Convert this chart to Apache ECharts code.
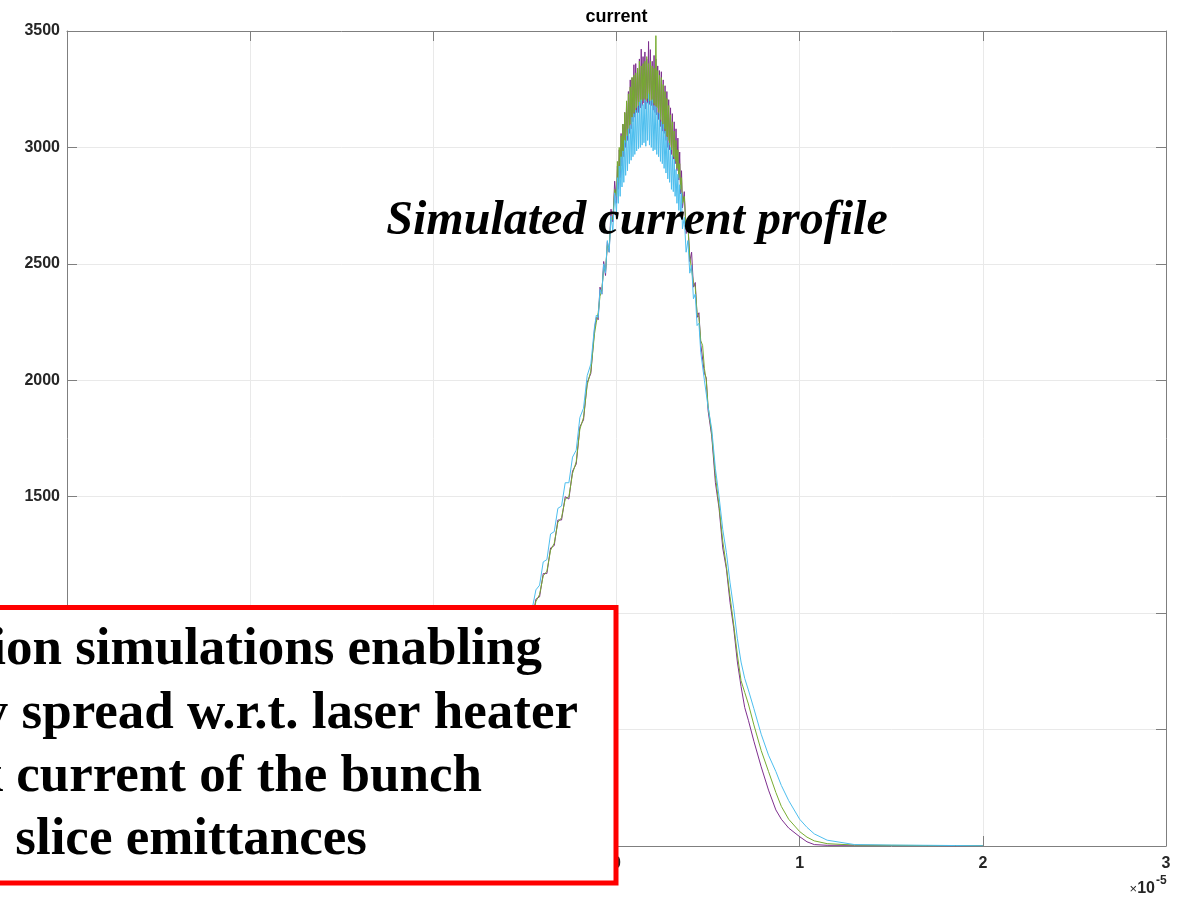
<!DOCTYPE html>
<html><head><meta charset="utf-8">
<script src="https://cdn.jsdelivr.net/npm/echarts@6/dist/echarts.min.js"></script>
<style>html,body{margin:0;padding:0;background:#fff}#chart{width:1191px;height:897px}</style>
</head><body><div id="chart"></div>
<script>
// longitudinal position (units of 1e-5)
const zPos = [-1.2,-1.0,-0.9,-0.8,-0.7,-0.6,-0.55,-0.5,-0.47,
-0.44,-0.42,-0.40,-0.38,-0.36,-0.34,-0.32,-0.30,-0.28,-0.26,-0.24,-0.22,-0.20,-0.18,-0.16,-0.14,-0.12,
-0.11,-0.10,-0.09,-0.08,-0.07,-0.06,-0.05,-0.04,-0.03,-0.02,-0.01,
0,0.005,0.01,0.015,0.02,0.025,0.03,0.035,0.04,0.045,0.05,0.055,0.06,0.065,0.07,0.075,0.08,0.085,0.09,0.095,
0.1,0.105,0.11,0.115,0.12,0.125,0.13,0.135,0.14,0.145,0.15,0.155,0.16,0.165,0.17,0.175,0.18,0.185,0.19,0.195,
0.2,0.205,0.21,0.215,0.22,0.225,0.23,0.235,0.24,0.245,0.25,0.255,0.26,0.265,0.27,0.275,0.28,0.285,0.29,0.295,
0.3,0.305,0.31,0.315,0.32,0.325,0.33,0.335,0.34,0.345,0.35,0.355,0.36,
0.37,0.38,0.39,0.40,0.41,0.42,0.43,0.44,0.45,0.46,0.47,0.48,0.49,0.50,
0.52,0.54,0.56,0.58,0.60,0.62,0.64,0.66,0.68,0.70,
0.72,0.75,0.79,0.83,0.87,0.90,0.94,1.00,1.04,1.08,1.15,1.3,1.5,1.7,1.85,2.0];

const currentPurple = [0,2,10,60,200,450,620,810,930,
1060,1070,1170,1170,1280,1290,1400,1400,1500,1490,1610,1640,1800,1830,1990,2030,2220,
2270,2260,2400,2370,2510,2450,2595,2550,2735,2680,2855,
2760,2920,2820,2990,2870,3060,2920,3100,2960,3150,3000,3190,3030,3240,3060,3290,3080,3300,3110,3355,
3130,3360,3150,3340,3150,3380,3170,3422,3180,3390,3190,3410,3165,3380,3190,3455,3185,3420,3180,3370,
3160,3395,3150,3380,3140,3350,3120,3330,3090,3325,3070,3290,3060,3265,3030,3240,3000,3205,2990,3170,
2970,3145,2950,3110,2930,3080,2900,3040,2860,2980,2800,2900,2740,
2810,2630,2680,2510,2550,2400,2420,2270,2290,2155,2160,2030,2010,1870,
1760,1560,1450,1280,1190,1045,935,790,685,595,
540,450,340,240,155,115,77,40,18,6,3,3,2,2,1,1];

const currentGreen = [0,2,12,65,210,460,630,820,940,
1050,1080,1160,1180,1270,1300,1390,1410,1490,1500,1600,1650,1790,1840,1980,2040,2200,
2250,2290,2360,2390,2480,2470,2580,2570,2700,2690,2820,
2790,2940,2850,3000,2900,3050,2950,3100,2980,3150,3020,3200,3050,3230,3080,3260,3100,3300,3130,3310,
3150,3320,3170,3340,3180,3370,3190,3350,3200,3360,3210,3370,3200,3390,3210,3360,3200,3370,3200,3350,
3190,3340,3180,3480,3170,3330,3150,3310,3120,3300,3100,3270,3080,3240,3050,3210,3030,3180,3010,3140,
2990,3110,2960,3070,2940,3030,2910,2990,2870,2930,2820,2870,2760,
2790,2650,2660,2530,2530,2420,2400,2290,2270,2170,2150,2050,2000,1890,
1770,1590,1460,1310,1200,1070,950,820,710,660,
610,520,410,320,230,170,115,62,38,22,10,4,3,2,2,1];

const currentCyan = [0,3,15,80,240,500,680,860,980,
1100,1120,1220,1230,1340,1350,1450,1460,1560,1560,1670,1700,1840,1880,2020,2070,2230,
2280,2270,2390,2370,2500,2460,2600,2550,2705,2640,2805,
2720,2870,2760,2920,2790,2960,2830,2985,2850,3030,2880,3050,2900,3080,2930,3095,2945,3130,2960,3145,
2970,3160,2985,3175,2995,3195,3000,3205,3010,3185,3020,3205,3005,3195,3030,3230,3010,3200,3000,3205,
2985,3180,2990,3175,2970,3150,2960,3145,2940,3110,2930,3100,2910,3070,2890,3045,2865,3020,2850,3000,
2820,2965,2810,2950,2790,2905,2760,2885,2730,2840,2700,2805,2650,
2700,2550,2600,2460,2495,2350,2370,2235,2245,2120,2120,2000,2000,1885,
1790,1620,1500,1360,1260,1130,1020,890,790,720,
670,590,480,390,320,260,195,115,80,52,25,6,4,3,2,1];

const seriesNames = ['case 4','case 5','case 6'];
const seriesColors = ['#7E2F8E','#77AC30','#4DBEEE'];
const chartTitle = 'current';
const annotationText = 'Simulated current profile';
const boxLines = ['ion simulations enabling','y spread w.r.t. laser heater','k current of the bunch','slice emittances'];
const xExponentBase = '10';
const xExponentPower = '-5';

const chart = echarts.init(document.getElementById('chart'), null, {renderer:'canvas'});
const pairs = vals => zPos.map((x,i)=>[x, vals[i]]);
const axisGray = '#7f7f7f';
const gridGray = '#e9e9e9';
const sans = "'Liberation Sans', Arial, Helvetica, sans-serif";
const serif = "'Liberation Serif', 'Times New Roman', serif";

const boxRight = [542, 578, 482, 367];
const boxY = [650, 714, 777, 840];

const option = {
  animation:false,
  backgroundColor:'#fff',
  grid:{left:67, right:25, top:31, bottom:51, containLabel:false},
  xAxis:[
    {type:'value', min:-3, max:3, interval:1, position:'bottom',
     axisLine:{show:true,onZero:false,lineStyle:{color:axisGray,width:1}},
     axisTick:{show:true,inside:true,length:10,lineStyle:{color:axisGray}},
     axisLabel:{fontSize:16,fontWeight:'bold',color:'#262626',margin:10,fontFamily:sans,formatter:v=>String(v)},
     splitLine:{show:true,lineStyle:{color:gridGray,width:1}}},
    {type:'value', min:-3, max:3, interval:1, position:'top',
     axisLine:{show:true,onZero:false,lineStyle:{color:axisGray,width:1}},
     axisTick:{show:true,inside:true,length:10,lineStyle:{color:axisGray}},
     axisLabel:{show:false}, splitLine:{show:false}}
  ],
  yAxis:[
    {type:'value', min:0, max:3500, interval:500, position:'left',
     axisLine:{show:true,onZero:false,lineStyle:{color:axisGray,width:1}},
     axisTick:{show:true,inside:true,length:10,lineStyle:{color:axisGray}},
     axisLabel:{fontSize:16,fontWeight:'bold',color:'#262626',margin:7,fontFamily:sans,formatter:v=>String(v)},
     splitLine:{show:true,lineStyle:{color:gridGray,width:1}}},
    {type:'value', min:0, max:3500, interval:500, position:'right',
     axisLine:{show:true,onZero:false,lineStyle:{color:axisGray,width:1}},
     axisTick:{show:true,inside:true,length:10,lineStyle:{color:axisGray}},
     axisLabel:{show:false}, splitLine:{show:false}}
  ],
  series:[currentPurple,currentGreen,currentCyan].map((vals,i)=>({
    name:seriesNames[i], type:'line', xAxisIndex:0, yAxisIndex:0,
    data:pairs(vals), showSymbol:false, symbol:'none', sampling:null,
    lineStyle:{color:seriesColors[i],width:1}, itemStyle:{color:seriesColors[i]},
    z:2+i, silent:true
  })),
  graphic:[
    {type:'text', z:100, style:{x:616.5,y:17,text:chartTitle,font:"bold 18px "+sans,fill:'#000',textAlign:'center',textVerticalAlign:'middle',verticalAlign:'middle'}},
    {type:'text', z:100, style:{x:637,y:222,text:annotationText,font:"italic bold 48px "+serif,fill:'#000',textAlign:'center',textVerticalAlign:'middle',verticalAlign:'middle'}},
    {type:'rect', z:100, shape:{x:-20,y:607.5,width:636,height:275.5}, style:{fill:'#fff',stroke:'#ff0000',lineWidth:5}},
    ...boxLines.map((t,i)=>({type:'text', z:101, style:{x:boxRight[i],y:boxY[i],text:t,font:"bold 53px "+serif,fill:'#000',textAlign:'right',textVerticalAlign:'middle',verticalAlign:'middle'}})),
    {type:'text', z:100, style:{x:1155,y:889,text:'{m|×}{n|'+xExponentBase+'}',textAlign:'right',textVerticalAlign:'middle',verticalAlign:'middle',
      rich:{m:{fontSize:13,fontFamily:sans,fill:'#262626',color:'#262626'},n:{fontSize:16,fontWeight:'bold',fontFamily:sans,fill:'#262626',color:'#262626'}}}},
    {type:'text', z:100, style:{x:1156,y:881,text:xExponentPower,font:"bold 12px "+sans,fill:'#262626',textAlign:'left',textVerticalAlign:'middle',verticalAlign:'middle'}}
  ]
};
chart.setOption(option);
</script></body></html>
